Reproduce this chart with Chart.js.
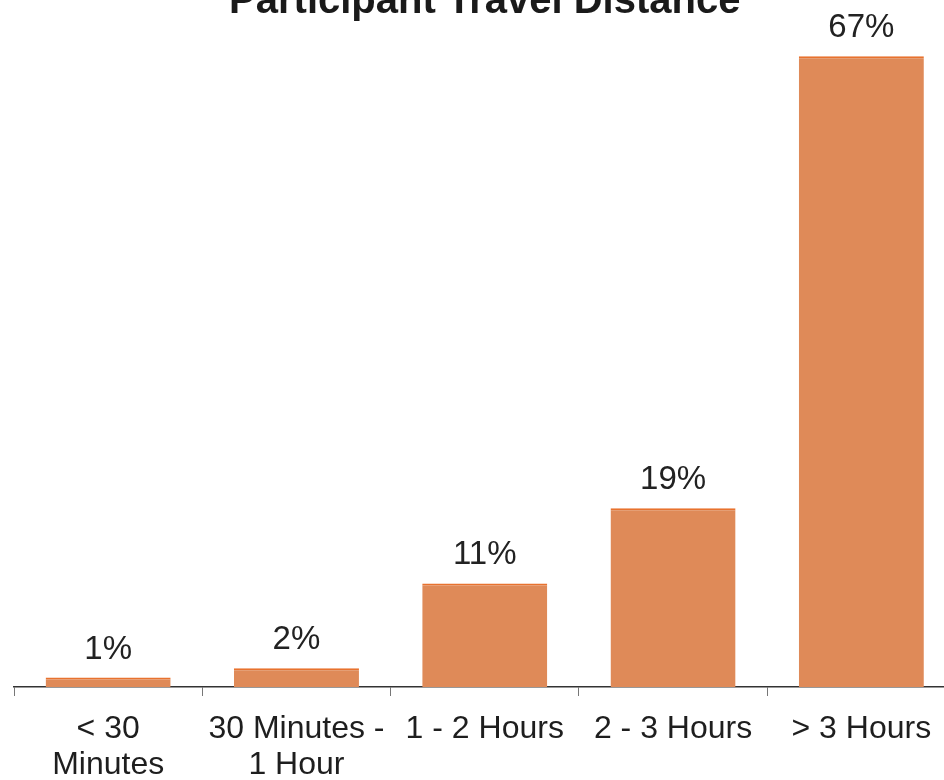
<!DOCTYPE html>
<html>
<head>
<meta charset="utf-8">
<script src="https://cdn.jsdelivr.net/npm/chart.js@4"></script>
<style>
  html, body { margin: 0; padding: 0; background: #fff; overflow: hidden; }
  body { width: 944px; height: 780px; position: relative; }
  #wrap { position: absolute; left: 0; top: -30px; width: 960px; height: 810px; }
</style>
</head>
<body>
<div id="wrap"><canvas id="travel-chart"></canvas></div>
<script>
const categories = [['< 30', 'Minutes'], ['30 Minutes -', '1 Hour'], '1 - 2 Hours', '2 - 3 Hours', '> 3 Hours'];
const shares = [1, 2, 11, 19, 67];
const valueLabels = ['1%', '2%', '11%', '19%', '67%'];

document.addEventListener('DOMContentLoaded', () => {

    // --- value labels above bars ---
    const barLabels = {
        id: 'barLabels',
        afterDatasetsDraw(chart) {
            const ctx = chart.ctx;
            const meta = chart.getDatasetMeta(0);
            ctx.save();
            ctx.font = '33px "Liberation Sans", Arial, sans-serif';
            ctx.fillStyle = '#222';
            ctx.textAlign = 'center';
            ctx.textBaseline = 'alphabetic';
            meta.data.forEach((bar, i) => {
                ctx.fillText(valueLabels[i], bar.x, bar.y - 19);
            });
            ctx.restore();
        }
    };

    const ctx = document.getElementById('travel-chart').getContext('2d');
    new Chart(ctx, {
        type: 'bar',
        data: {
            labels: categories,
            datasets: [{
                data: shares,
                backgroundColor: '#DF8A58',
                borderColor: '#E8722E',
                borderWidth: { top: 2, left: 0, right: 0, bottom: 0 },
                borderSkipped: 'bottom',
                categoryPercentage: 1,
                barPercentage: 0.664,
            }]
        },
        options: {
            responsive: true,
            maintainAspectRatio: false,
            animation: false,
            layout: { padding: { left: 14, right: 4.5, top: 0, bottom: 0 } },
            plugins: {
                legend: { display: false },
                tooltip: { enabled: false },
                title: {
                    display: true,
                    text: 'Participant Travel Distance',
                    color: '#1a1a1a',
                    font: { family: '"Liberation Sans", Arial, sans-serif', size: 40, weight: 'bold', lineHeight: 1 },
                    padding: { top: 12, bottom: 6 },
                }
            },
            scales: {
                x: {
                    grid: {
                        display: true,
                        drawOnChartArea: false,
                        drawTicks: true,
                        tickLength: 9,
                        tickColor: '#777',
                        offset: true,
                    },
                    border: { display: true, color: '#333', width: 1.5 },
                    ticks: {
                        color: '#1e1e1e',
                        padding: 16,
                        maxRotation: 0,
                        autoSkip: false,
                        font: { family: '"Liberation Sans", Arial, sans-serif', size: 32, lineHeight: 1.1 },
                    },
                    afterFit: (scale) => { scale.height = 93; }
                },
                y: {
                    display: false,
                    min: 0,
                    max: 70,
                }
            }
        },
        plugins: [barLabels]
    });
});
</script>
</body>
</html>
